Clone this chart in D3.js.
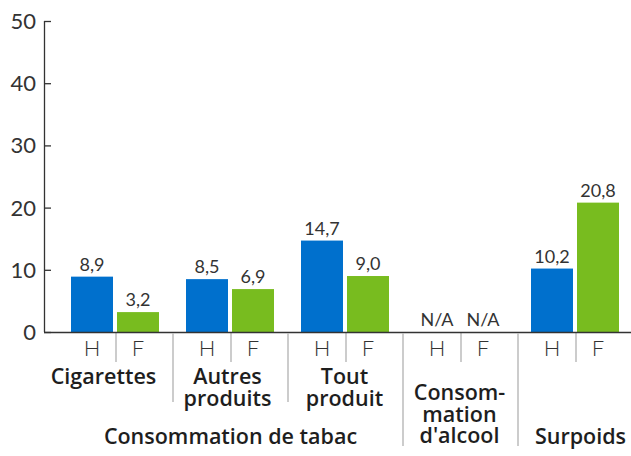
<!DOCTYPE html>
<html>
<head>
<meta charset="utf-8">
<script src="https://cdn.jsdelivr.net/npm/d3@7"></script>
<style>
  html, body { margin: 0; padding: 0; background: #fff; }
  svg { display: block; }
  text { font-family: Lato, "Open Sans", sans-serif; }
  text.cat { font-family: "Open Sans", Lato, sans-serif; font-variant-ligatures: none; }
</style>
</head>
<body>
<svg id="chart" width="631" height="456"></svg>
<script>
// Prévalence par sexe (%)
const categories = ["Cigarettes", "Autres produits", "Tout produit", "Consommation d'alcool", "Surpoids"];
const sexes = ["H", "F"];
const valuesH = [8.9, 8.5, 14.7, null, 10.2];
const valuesF = [3.2, 6.9, 9.0, null, 20.8];
const yTicks = [0, 10, 20, 30, 40, 50];
const categoryLines = [["Cigarettes"], ["Autres", "produits"], ["Tout", "produit"], ["Consom-", "mation", "d'alcool"], ["Surpoids"]];
const superGroup = { label: "Consommation de tabac", from: 0, to: 2 };
const naLabel = "N/A";

const colors = { H: "#0070cd", F: "#78bc1f" };
const fmt = v => d3.format(".1f")(v).replace(".", ",");

const svg = d3.select("#chart");
const baseY = 332, topY = 21, axisX = 44;

const y = d3.scaleLinear().domain([0, 50]).range([baseY, topY]);
const x0 = d3.scaleBand().domain(categories).range([58, 633]);
const x1 = d3.scaleBand().domain(sexes).range([13, 101]).paddingInner(0.087);

const rows = categories.map((c, i) => ({ cat: c, i, vals: { H: valuesH[i], F: valuesF[i] } }));

// y axis with ticks pointing into the plot
const yAxis = d3.axisRight(y).tickValues(yTicks).tickSize(7).tickFormat("");
const gy = svg.append("g").attr("transform", `translate(${axisX},0)`).call(yAxis);
gy.selectAll("path, line").attr("stroke", "#333").attr("stroke-width", 1.3);
gy.select(".domain").attr("d", `M0.5,${topY}V${baseY}`);

svg.append("g").selectAll("text").data(yTicks).join("text")
  .attr("x", 36).attr("y", d => y(d)).attr("dy", "0.36em")
  .attr("text-anchor", "end").attr("font-size", 22).attr("fill", "#333")
  .text(d => d);

// bars
const groups = svg.append("g").selectAll("g").data(rows).join("g")
  .attr("transform", d => `translate(${x0(d.cat)},0)`);

groups.selectAll("rect").data(d => sexes.filter(s => d.vals[s] != null).map(s => ({ s, v: d.vals[s] })))
  .join("rect")
  .attr("x", d => x1(d.s)).attr("width", x1.bandwidth())
  .attr("y", d => y(d.v)).attr("height", d => y(0) - y(d.v))
  .attr("fill", d => colors[d.s]);

groups.selectAll("text.val").data(d => sexes.map(s => ({ s, v: d.vals[s] })))
  .join("text").attr("class", "val")
  .attr("x", d => x1(d.s) + x1.bandwidth() / 2)
  .attr("y", d => (d.v == null ? y(0) : y(d.v)) - 6)
  .attr("text-anchor", "middle").attr("font-size", 18).attr("fill", "#333")
  .text(d => d.v == null ? naLabel : fmt(d.v));

// baseline
svg.append("line").attr("x1", axisX).attr("x2", 631).attr("y1", baseY + 0.5).attr("y2", baseY + 0.5)
  .attr("stroke", "#333").attr("stroke-width", 1.5);

// H / F labels and separators
groups.selectAll("text.sex").data(sexes).join("text").attr("class", "sex")
  .attr("x", s => x1(s) + x1.bandwidth() / 2).attr("y", 356)
  .attr("text-anchor", "middle").attr("font-size", 22).attr("fill", "#333").attr("font-weight", 300)
  .text(s => s);

groups.append("line")
  .attr("x1", 58).attr("x2", 58).attr("y1", baseY + 1).attr("y2", 362)
  .attr("stroke", "#bbb").attr("stroke-width", 1.5);

// separators between categories
const sepBottom = [402, 402, 446, 446];
svg.append("g").selectAll("line").data(categories.slice(1)).join("line")
  .attr("x1", d => x0(d)).attr("x2", d => x0(d))
  .attr("y1", baseY + 1).attr("y2", (d, i) => sepBottom[i])
  .attr("stroke", "#bbb").attr("stroke-width", 1.5);

// category labels, one text element per line
const labelShift = [-12, -3, -1, -1, 5];
const labelBase = [383.5, 383.5, 383.5, 400, 444];
const lineGap = [22.6, 22.6, 22.6, 21.7, 22];
const labelLines = rows.flatMap(d => categoryLines[d.i].map((t, j) => ({ t, j, d })));
svg.append("g").selectAll("text").data(labelLines).join("text")
  .attr("class", "cat")
  .attr("text-anchor", "middle").attr("font-size", 21.5).attr("font-weight", 600).attr("fill", "#1e1e1e")
  .attr("x", o => x0(o.d.cat) + x0.bandwidth() / 2 + labelShift[o.d.i])
  .attr("y", o => labelBase[o.d.i] + o.j * lineGap[o.d.i])
  .text(o => o.t);

// group label spanning the tobacco categories
const gx0 = x0(categories[superGroup.from]);
const gx1 = x0(categories[superGroup.to]) + x0.bandwidth();
svg.append("text").attr("class", "cat").attr("x", (gx0 + gx1) / 2).attr("y", 444)
  .attr("text-anchor", "middle").attr("font-size", 21.5).attr("font-weight", 600).attr("fill", "#1e1e1e")
  .text(superGroup.label);
</script>
</body>
</html>
